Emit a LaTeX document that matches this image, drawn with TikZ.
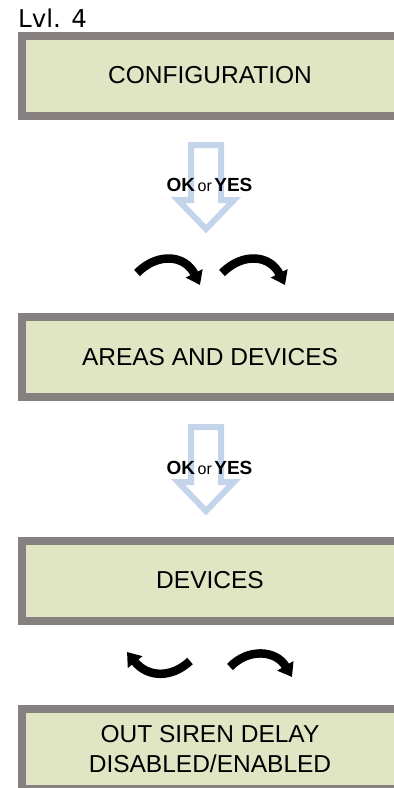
\documentclass[tikz,border=0pt]{standalone}
\usepackage{fontspec}
\setmainfont{Liberation Sans}
\newfontfamily\lvlfont{DejaVu Sans}
\usepackage{tikz}
\usetikzlibrary{calc, positioning, arrows, arrows.meta, shapes}
\definecolor{grisbord}{RGB}{134,128,128}
\definecolor{fondlcd}{RGB}{224,229,196}
\definecolor{bleuclair}{RGB}{196,212,234}

\begin{document}
\begin{tikzpicture}[x=1pt, y=-1pt]
		\tikzstyle{ecran}=[draw=grisbord, fill=fondlcd, line width=8pt,
                  minimum width=376pt, minimum height=80pt, align=center,
                  font=\fontsize{24.5}{30}\selectfont, inner sep=0pt]
		\tikzstyle{creuse}=[draw=bleuclair, fill=white, line width=6pt,
                  line join=miter]
		\tikzstyle{fleche}=[->,>={Triangle[length=13pt,width=18pt]},
                  line width=8.5pt]
		\tikzstyle{choix}=[font=\fontsize{19}{19}\selectfont, inner sep=0pt]
                \useasboundingbox (0,0) rectangle (394,788);
                \clip (0,0) rectangle (394,788);
                \node[anchor=base west, inner sep=0pt,
                  font=\lvlfont\fontsize{24.5}{24.5}\selectfont] (niveau)
                at (18,27) {Lvl. 4};
                \node[ecran] (config) at (210,75.5) {CONFIGURATION};
                \node[ecran] (zones) at (210,357) {AREAS AND DEVICES};
                \node[ecran] (devices) at (210,580.5) {DEVICES};
                \node[ecran] (sirene) at (210,749) {OUT SIREN
                  DELAY\\DISABLED/ENABLED};
                \draw[creuse] (191,145) -- (221,145) -- (221,200) --
                (234,200) -- (206,229) -- (178,200) -- (191,200) --
                cycle; \node[choix] (ok1) at (209.5,185)
                {\textbf{OK}\hspace{2.5pt}{\fontsize{16}{16}\selectfont
                    or}\hspace{2.5pt}\textbf{YES}};
                \draw[creuse] (191,427) -- (221,427) -- (221,482) --
                (234,482) -- (206,511) -- (178,482) -- (191,482) --
                cycle; \node[choix] (ok2) at (209.5,467.5)
                {\textbf{OK}\hspace{2.5pt}{\fontsize{16}{16}\selectfont
                    or}\hspace{2.5pt}\textbf{YES}};
                \draw[fleche] (137,273) .. controls (158,252) and
                (185,255) .. (200,285); \draw[fleche] (222,273)
                .. controls (243,252) and (270,255) .. (285,285);
                \draw[fleche] (190,661) .. controls (172,678) and
                (148,678) .. (127,652); \draw[fleche] (230,667)
                .. controls (248,648) and (276,650) .. (292,677);
	\end{tikzpicture}
\end{document}
